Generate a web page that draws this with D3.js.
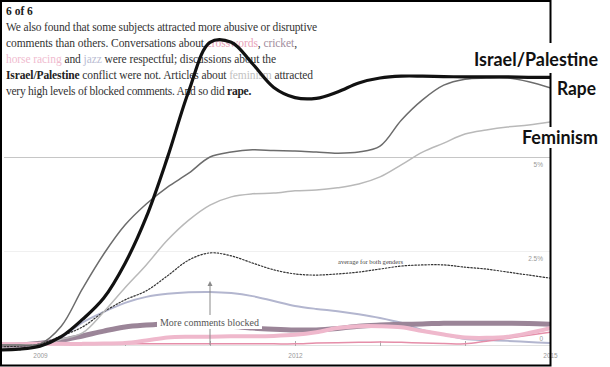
<!DOCTYPE html>
<meta charset="utf-8">
<style>
body { margin: 0; background: #fff; }
svg { display: block; }
.para { font-family: "Liberation Serif", "DejaVu Serif", serif; font-size: 11.5px; fill: #333; }
.tag { font-family: Lato, "Liberation Sans", sans-serif; font-weight: bold; font-size: 18px; fill: #111; }
.axis text { font-family: "Liberation Sans", Arial, sans-serif; font-size: 6.5px; fill: #999; }
.axis path { display: none; }
.note { font-family: "Liberation Serif", serif; fill: #555; }
</style>
<body>
<script src="https://cdnjs.cloudflare.com/ajax/libs/d3/7.8.5/d3.min.js"></script>
<script>

// quarter-year sample points (share of comments blocked, %)
var years = [2008.5, 2008.75, 2009, 2009.25, 2009.5, 2009.75, 2010, 2010.25, 2010.5, 2010.75,
  2011, 2011.25, 2011.5, 2011.75, 2012, 2012.25, 2012.5, 2012.75, 2013, 2013.25,
  2013.5, 2013.75, 2014, 2014.25, 2014.5, 2014.75, 2015];

var israelPalestine = [-0.13, -0.11, -0.03, 0.22, 0.68, 1.25, 2.17, 3.4, 4.99, 6.75,
  8.05, 8.05, 7.48, 6.85, 6.58, 6.56, 6.73, 6.97, 7.1, 7.15,
  7.15, 7.14, 7.13, 7.13, 7.13, 7.12, 7.12];
var rape = [0, 0, 0.03, 0.5, 1.5, 2.42, 3.19, 3.75, 4.2, 4.57,
  5.0, 5.13, 5.19, 5.17, 5.16, 5.13, 5.1, 5.13, 5.29, 5.98,
  6.52, 6.91, 7.07, 7.1, 7.1, 7.0, 6.84];
var feminism = [0, 0, 0, 0.15, 0.32, 0.88, 1.52, 2.13, 2.79, 3.32,
  3.72, 3.94, 4.02, 4.04, 4.1, 4.12, 4.18, 4.28, 4.47, 4.79,
  5.13, 5.37, 5.61, 5.72, 5.8, 5.85, 5.93];
var average = [-0.05, -0.03, 0.03, 0.24, 0.48, 0.88, 1.2, 1.44, 1.84, 2.26,
  2.45, 2.37, 2.18, 2.0, 1.89, 1.86, 1.89, 1.94, 2.02, 2.1,
  2.13, 2.13, 2.07, 2.02, 1.94, 1.86, 1.78];
var jazz = [0, 0, 0.02, 0.2, 0.6, 0.88, 1.12, 1.28, 1.36, 1.4,
  1.41, 1.38, 1.3, 1.17, 1.04, 0.96, 0.9, 0.82, 0.72, 0.59,
  0.4, 0.27, 0.16, 0.13, 0.11, 0.08, 0.05];
var cricket = [0, 0, 0.05, 0.12, 0.24, 0.37, 0.48, 0.53, 0.56, 0.55,
  0.53, 0.5, 0.45, 0.42, 0.4, 0.4, 0.44, 0.5, 0.53, 0.55,
  0.56, 0.58, 0.58, 0.58, 0.58, 0.57, 0.55];
var horseRacing = [0.02, 0.02, 0.03, 0.03, 0.03, 0.04, 0.05, 0.12, 0.2, 0.22,
  0.22, 0.23, 0.23, 0.24, 0.27, 0.34, 0.45, 0.5, 0.5, 0.47,
  0.37, 0.28, 0.2, 0.19, 0.22, 0.32, 0.45];
var crosswords = [0.02, 0.02, 0.02, 0.02, 0.02, 0.03, 0.03, 0.03, 0.03, 0.03,
  0.03, 0.03, 0.03, 0.03, 0.03, 0.05, 0.06, 0.07, 0.08, 0.07,
  0.05, 0.04, 0.03, 0.1, 0.18, 0.26, 0.34];

var yearTicks = [2009, 2010, 2011, 2012, 2013, 2014, 2015];
var yearLabels = [2009, 2012, 2015];
var pctTicks = [0, 2.5, 5];

var width = 610, height = 367;

var svg = d3.select('body').append('svg')
  .attr('width', width)
  .attr('height', height);

var x = d3.scaleLinear().domain([2009, 2015]).range([40, 550]);
var y = d3.scaleLinear().domain([0, 5]).range([345, 157]);

svg.append('defs').append('clipPath').attr('id', 'plot')
  .append('rect').attr('x', 2).attr('y', 2).attr('width', 548).attr('height', 362);

// grid lines
var grid = svg.append('g')
  .attr('class', 'axis')
  .attr('clip-path', 'url(#plot)')
  .attr('transform', 'translate(2,0)')
  .call(d3.axisRight(y).tickValues(pctTicks).tickSize(548).tickFormat(''));
grid.selectAll('.tick line')
  .attr('stroke', function(d) { return d === 5 ? '#c6c6c6' : (d === 0 ? '#e2e2e2' : '#f0f0f0'); });

// percentage labels, sitting just inside the right edge
var yAx = svg.append('g')
  .attr('class', 'axis')
  .attr('transform', 'translate(547,0)')
  .call(d3.axisLeft(y).tickValues(pctTicks).tickSize(0).tickPadding(4)
    .tickFormat(function(d) { return d === 0 ? '0' : d + '%'; }));
yAx.selectAll('text').attr('dy', function(d) { return d === 0 ? '-0.75em' : '1.4em'; });

// year axis with small upward ticks
var xAx = svg.append('g')
  .attr('class', 'axis')
  .attr('transform', 'translate(0,346)')
  .call(d3.axisBottom(x).tickValues(yearTicks).tickSizeInner(-5).tickSizeOuter(0).tickPadding(7)
    .tickFormat(function(d) { return yearLabels.indexOf(d) >= 0 ? d : ''; }));
xAx.selectAll('.tick line').attr('stroke', '#aaa');

// intro text
var paraLines = [
  { y: 31, w: 311, segs: [['We also found that some subjects attracted more abusive or disruptive']] },
  { y: 47, w: 291, segs: [['comments than others. Conversations about '], ['crosswords', '#e8a3b8'], [', '], ['cricket', '#a38e9e'], [',']] },
  { y: 63, w: 270, segs: [['horse racing', '#f0bccf'], [' and '], ['jazz', '#b9bcd2'], [' were respectful; discussions about the']] },
  { y: 79, w: 307, segs: [['Israel/Palestine', '#222', true], [' conflict were not. Articles about '], ['feminism', '#c2c2c2'], [' attracted']] },
  { y: 95, w: 245, segs: [['very high levels of blocked comments. And so did '], ['rape.', '#222', true]] }
];

svg.append('text')
  .attr('class', 'para')
  .attr('x', 6).attr('y', 15)
  .style('font-weight', 'bold').style('fill', '#222')
  .text('6 of 6');

// fit each line to the width it has in the picture with letter spacing
paraLines.forEach(function(l) {
  var t = svg.append('text')
    .attr('class', 'para')
    .attr('x', 6).attr('y', l.y);
  var n = 0;
  l.segs.forEach(function(s) {
    var sp = t.append('tspan').text(s[0]);
    n += s[0].length;
    if (s[1]) sp.style('fill', s[1]);
    if (s[2]) sp.style('font-weight', 'bold');
  });
  var natural = t.node().getComputedTextLength();
  t.style('letter-spacing', ((l.w - natural) / n) + 'px');
});

// series, bottom to top
var series = [
  { values: jazz, color: '#b3b6cf', w: 2 },
  { values: crosswords, color: '#e58ea9', w: 1.5 },
  { values: cricket, color: '#9b8598', w: 5 },
  { values: horseRacing, color: '#efb8cc', w: 4 },
  { values: average, color: '#333', w: 1.2, dash: '1.5,1.8' },
  { values: feminism, color: '#b9b9b9', w: 1.5 },
  { values: rape, color: '#6c6c6c', w: 1.5 },
  { values: israelPalestine, color: '#111', w: 3.2 }
];

var line = d3.line()
  .x(function(d, i) { return x(years[i]); })
  .y(function(d) { return y(d); })
  .curve(d3.curveCatmullRom.alpha(0.5));

svg.append('g')
  .attr('clip-path', 'url(#plot)')
  .selectAll('path')
  .data(series)
  .enter().append('path')
  .attr('d', function(d) { return line(d.values); })
  .attr('fill', 'none')
  .attr('stroke', function(d) { return d.color; })
  .attr('stroke-width', function(d) { return d.w; })
  .attr('stroke-linecap', 'round')
  .attr('stroke-dasharray', function(d) { return d.dash || null; });

// annotation arrow at 2011
var ax = x(2011);
svg.append('line')
  .attr('x1', ax).attr('x2', ax)
  .attr('y1', y(0)).attr('y2', 285)
  .attr('stroke', '#8a8a8a').attr('stroke-width', 1);
svg.append('path')
  .attr('d', 'M' + (ax - 2.5) + ',286L' + ax + ',281L' + (ax + 2.5) + ',286Z')
  .attr('fill', '#8a8a8a');

svg.append('rect')
  .attr('x', 157).attr('y', 315).attr('width', 105).attr('height', 14)
  .attr('fill', '#fff');
svg.append('text')
  .attr('class', 'note')
  .attr('x', 160).attr('y', 326)
  .style('font-size', '10.5px')
  .attr('textLength', 99).attr('lengthAdjust', 'spacingAndGlyphs')
  .text('More comments blocked');

svg.append('text')
  .attr('class', 'note')
  .attr('x', 338).attr('y', 264)
  .style('font-size', '7px').style('fill', '#444')
  .attr('textLength', 65).attr('lengthAdjust', 'spacingAndGlyphs')
  .text('average for both genders');

// screenshot frame
svg.append('rect')
  .attr('x', 1).attr('y', 1).attr('width', 549.5).attr('height', 364.5)
  .attr('fill', 'none').attr('stroke', '#000').attr('stroke-width', 2);

// big labels on the right
var tags = [
  { text: 'Israel/Palestine', x: 474, y: 66, w: 124, bg: [468, 43, 136, 30] },
  { text: 'Rape', x: 557, y: 95, w: 39 },
  { text: 'Feminism', x: 522, y: 144, w: 76, bg: [517, 127, 86, 21] }
];
tags.forEach(function(t) {
  if (t.bg) {
    svg.append('rect')
      .attr('x', t.bg[0]).attr('y', t.bg[1]).attr('width', t.bg[2]).attr('height', t.bg[3])
      .attr('fill', '#fff');
  }
  svg.append('text')
    .attr('class', 'tag')
    .attr('x', t.x).attr('y', t.y)
    .attr('textLength', t.w).attr('lengthAdjust', 'spacingAndGlyphs')
    .text(t.text);
});

</script>
</body>
